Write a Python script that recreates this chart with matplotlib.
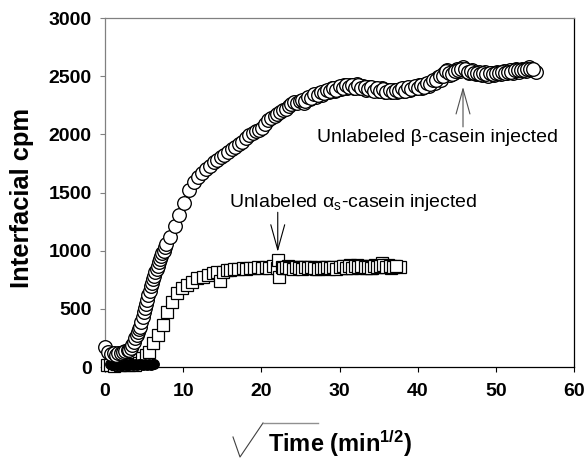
import matplotlib
matplotlib.use("Agg")
import matplotlib.pyplot as plt
from matplotlib.lines import Line2D

plt.rcParams['font.family'] = ['Liberation Sans', 'DejaVu Sans']
plt.rcParams['mathtext.fontset'] = 'custom'
plt.rcParams['mathtext.rm'] = 'Liberation Sans'
plt.rcParams['mathtext.bf'] = 'Liberation Sans:bold'

# beta-casein adsorption (circles)
beta_x = [0.0, 0.4, 0.8, 1.1, 1.4, 1.7, 2.0, 2.3, 2.6, 2.9, 3.1, 3.3, 3.5, 3.7, 3.9,
          4.05, 4.2, 4.35, 4.5, 4.65, 4.8, 4.95, 5.1, 5.25, 5.4, 5.55, 5.7, 5.85, 6.0,
          6.15, 6.3, 6.45, 6.6, 6.75, 6.9, 7.05, 7.2, 7.35, 7.5, 7.65, 7.8, 8.3, 8.9,
          9.5, 10.1, 10.8, 11.4, 11.9, 12.4, 12.9, 13.4, 13.9, 14.3, 14.8, 15.2, 15.7,
          16.2, 16.6, 17.1, 17.5, 18.0, 18.4, 18.9, 19.3, 19.7, 20.1, 20.5, 20.9, 21.3,
          21.7, 22.0, 22.4, 22.8, 23.1, 23.5, 23.8, 24.2, 24.6,
          25.0, 25.4, 25.8, 26.2, 26.6, 27.0, 27.4, 27.8, 28.2, 28.6, 29.0, 29.4, 29.8,
          30.2, 30.6, 31.0, 31.4, 31.8, 32.2, 32.6, 33.0, 33.4, 33.8, 34.2, 34.6, 35.0,
          35.4, 35.8, 36.2, 36.6, 37.0, 37.4, 37.8, 38.2, 38.6, 39.0, 39.4, 39.8, 40.2,
          40.6, 41.0, 41.4, 41.8, 42.2, 42.6, 43.0, 43.4, 43.8, 44.2, 44.6, 45.0, 45.4,
          45.8, 46.2, 46.6, 47.0, 47.4, 47.8, 48.2, 48.6, 49.0, 49.4, 49.8, 50.2, 50.6,
          51.0, 51.4, 51.8, 52.2, 52.6, 53.0, 53.4, 53.8, 54.2, 54.6, 55.2]
beta_y = [172, 125, 110, 118, 105, 122, 118, 130, 138, 150, 150, 165, 185, 215, 245,
          275, 300, 325, 345, 390, 430, 470, 505, 540, 576, 615, 655, 695, 725,
          755, 785, 815, 845, 870, 900, 925, 950, 980, 1000, 1030, 1060, 1120, 1210,
          1310, 1410, 1520, 1590, 1630, 1665, 1700, 1730, 1760, 1780, 1805, 1825, 1850,
          1870, 1890, 1915, 1935, 1965, 1990, 2012, 2025, 2040, 2055, 2090, 2120, 2140,
          2160, 2175, 2190, 2205, 2220, 2245, 2260, 2275, 2270,
          2290, 2270, 2310, 2300, 2335, 2320, 2355, 2340, 2375, 2360, 2395, 2375, 2410,
          2390, 2425, 2400, 2420, 2395, 2430, 2400, 2415, 2385, 2410, 2380, 2400, 2370,
          2395, 2365, 2385, 2360, 2380, 2365, 2390, 2370, 2400, 2380, 2410, 2395, 2420,
          2400, 2435, 2415, 2455, 2440, 2490, 2470, 2530, 2555, 2510, 2530, 2560, 2545,
          2575, 2550, 2530, 2555, 2515, 2540, 2510, 2535, 2505, 2530, 2510, 2540, 2515,
          2545, 2525, 2550, 2530, 2560, 2540, 2565, 2545, 2575, 2555, 2540]

# beta-casein readings taken between the ones above on the plateau
beta_x_mid = [25.2, 25.6, 26.0, 26.4, 26.8, 27.2, 27.6, 28.0, 28.4, 28.8, 29.2, 29.6,
              30.0, 30.4, 30.8, 31.2, 31.6, 32.0, 32.4, 32.8, 33.2, 33.6, 34.0, 34.4,
              34.8, 35.2, 35.6, 36.0, 36.4, 36.8, 37.2, 37.6, 38.0, 38.4, 38.8, 39.2,
              39.6, 40.0, 40.4, 40.8, 41.2, 41.6, 42.0, 42.4, 42.8, 43.2, 43.6, 44.0,
              44.4, 44.8, 45.2, 45.6, 46.0, 46.4, 46.8, 47.2, 47.6, 48.0, 48.4, 48.8,
              49.2, 49.6, 50.0, 50.4, 50.8, 51.2, 51.6, 52.0, 52.4, 52.8, 53.2, 53.6,
              54.0, 54.4, 54.8]
beta_y_mid = [2295, 2290, 2320, 2310, 2345, 2335, 2365, 2355, 2385, 2370, 2400, 2385,
              2415, 2395, 2420, 2405, 2425, 2400, 2420, 2395, 2410, 2390, 2405, 2375,
              2395, 2375, 2390, 2360, 2380, 2365, 2385, 2370, 2395, 2375, 2405, 2390,
              2415, 2400, 2425, 2410, 2445, 2430, 2470, 2465, 2505, 2500, 2545, 2525,
              2520, 2545, 2555, 2565, 2560, 2540, 2545, 2525, 2530, 2520, 2530, 2515,
              2525, 2515, 2530, 2525, 2535, 2530, 2540, 2540, 2550, 2550, 2555, 2555,
              2565, 2565, 2560]

# baseline readings near zero before adsorption starts
base_x = [0.6, 0.85, 1.1, 1.35, 1.6, 1.85, 2.1, 2.35, 2.6, 2.85, 3.1, 3.35, 3.6,
          3.85, 4.1, 4.35, 4.6, 4.85, 5.1, 5.35, 5.6, 5.85, 6.1, 6.3]
base_y = [22, 18, 25, 20, 24, 17, 22, 26, 19, 23, 18, 24, 21, 25, 19, 22, 26, 20,
          23, 18, 24, 21, 25, 22]

# alpha_s-casein adsorption (squares)
alpha_x = [0.3, 0.7, 1.1, 1.5, 1.9, 2.3, 2.7, 3.1, 3.5, 3.9, 4.3, 4.7, 5.2, 5.6, 6.1,
           6.8, 7.4, 7.9, 8.6, 9.2, 9.8, 10.5, 11.1, 11.8, 12.5, 13.2, 13.8, 14.3,
           14.7, 15.1, 15.6, 16.0, 16.5, 17.0, 17.6, 18.1, 18.6, 19.1, 19.6, 20.1,
           20.6, 21.0, 21.5, 22.0, 22.1, 22.2, 22.6, 23.0, 23.4, 23.8, 24.2, 24.6,
           25.0, 25.4, 25.8, 26.2, 26.6, 27.0, 27.4, 27.8, 28.2, 28.6, 29.0, 29.4,
           29.8, 30.2, 30.6, 31.0, 31.4, 31.8, 32.2, 32.6, 33.0, 33.4, 33.8, 34.2,
           34.6, 35.0, 35.4, 35.8, 36.2, 36.6, 37.0, 37.7]
alpha_y = [15, 20, 12, 22, 18, 14, 24, 18, 25, 20, 35, 75, 100, 130, 206,
           275, 361, 473, 559, 636, 679, 705, 731, 765, 774, 791, 805, 817,
           735, 820, 830, 834, 840, 845, 851, 845, 855, 850, 860, 850,
           860, 855, 865, 850, 920, 770, 860, 855, 865, 850, 860, 848,
           858, 850, 862, 848, 855, 845, 858, 850, 860, 845, 855, 848,
           862, 850, 870, 855, 875, 860, 878, 855, 870, 850, 865, 855,
           875, 860, 890, 865, 875, 855, 870, 860]

# alpha_s-casein readings taken between the ones above on the plateau
alpha_x_mid = [22.8, 23.2, 23.6, 24.0, 24.4, 24.8, 25.2, 25.6, 26.0, 26.4, 26.8, 27.2,
               27.6, 28.0, 28.4, 28.8, 29.2, 29.6, 30.0, 30.4, 30.8, 31.2, 31.6, 32.0,
               32.4, 32.8, 33.2, 33.6, 34.0, 34.4, 34.8, 35.2, 35.6, 36.0, 36.4, 36.8,
               37.2]
alpha_y_mid = [850, 862, 855, 845, 858, 852, 845, 856, 852, 860, 850, 845,
               855, 848, 858, 852, 860, 845, 858, 865, 852, 868, 850, 865,
               860, 872, 858, 862, 850, 868, 858, 872, 880, 860, 868, 858,
               865]

x_ticks = [0, 10, 20, 30, 40, 50, 60]
y_ticks = [0, 500, 1000, 1500, 2000, 2500, 3000]

alpha_inject_x = 22.1
beta_inject_x = 45.8

fig = plt.figure(figsize=(5.87, 4.58), dpi=100)
ax = fig.add_axes([105 / 587, 1 - 367 / 458, 469 / 587, 349 / 458])

ax.plot(alpha_x + alpha_x_mid, alpha_y + alpha_y_mid, linestyle='none', marker='s',
        ms=8.8, mfc='white', mec='black', mew=0.9, zorder=3, clip_on=False)
ax.plot(base_x, base_y, linestyle='none', marker='o', ms=7.0, mfc='black',
        mec='black', mew=0.8, zorder=3.5, clip_on=False)
ax.plot(beta_x + beta_x_mid, beta_y + beta_y_mid, linestyle='none', marker='o',
        ms=9.8, mfc='white', mec='black', mew=0.95, zorder=4, clip_on=False)

ax.set_xlim(0, 60)
ax.set_ylim(0, 3000)
ax.set_xticks(x_ticks)
ax.set_yticks(y_ticks)
ax.tick_params(direction='out', length=3.6, width=0.8)
ax.tick_params(axis='x', pad=8, colors='black')
ax.tick_params(axis='y', pad=6, color='#808080', labelcolor='black')
for lab in ax.get_xticklabels() + ax.get_yticklabels():
    lab.set_fontsize(14)
    lab.set_fontweight('bold')
ax.spines['left'].set_color('#808080')
ax.spines['top'].set_color('#808080')
ax.spines['right'].set_color('black')
ax.spines['bottom'].set_color('black')
for s in ax.spines.values():
    s.set_linewidth(0.9)

# injection annotations
ax.text(15.85, 1376, r'Unlabeled $\mathregular{α_s}$-casein injected',
        fontsize=14, ha='left', va='baseline')
ax.annotate('', xy=(alpha_inject_x, 990), xytext=(alpha_inject_x, 1330),
            arrowprops=dict(arrowstyle='->,head_length=1.8,head_width=0.5',
                            color='black', lw=0.8, shrinkA=0, shrinkB=0,
                            mutation_scale=10), zorder=6)
ax.text(27.1, 1935, 'Unlabeled β-casein injected', fontsize=14,
        ha='left', va='baseline')
ax.annotate('', xy=(beta_inject_x, 2408), xytext=(beta_inject_x, 2064),
            arrowprops=dict(arrowstyle='->,head_length=1.8,head_width=0.5',
                            color='#505050', lw=0.8, shrinkA=0, shrinkB=0,
                            mutation_scale=10), zorder=6)

# axis titles
fig.text(22 / 587, 1 - 198 / 458, 'Interfacial cpm', rotation=90,
         fontsize=18.4, fontweight='bold', ha='center', va='center')
fig.text(268 / 587, 1 - 452 / 458, r'Time (min$\mathregular{^{1/2}}$)',
         fontsize=17, fontweight='bold', ha='left', va='baseline')

# square-root sign in front of the x title
W, H = 587, 458
fig.add_artist(Line2D([233 / W, 240 / W, 263 / W], [1 - 437 / H, 1 - 457 / H, 1 - 423 / H],
                      transform=fig.transFigure, color='#404040', lw=0.8))
fig.add_artist(Line2D([263 / W, 318 / W], [1 - 423 / H, 1 - 423 / H],
                      transform=fig.transFigure, color='#909090', lw=1.0))

fig.savefig('out.png', dpi=100)
